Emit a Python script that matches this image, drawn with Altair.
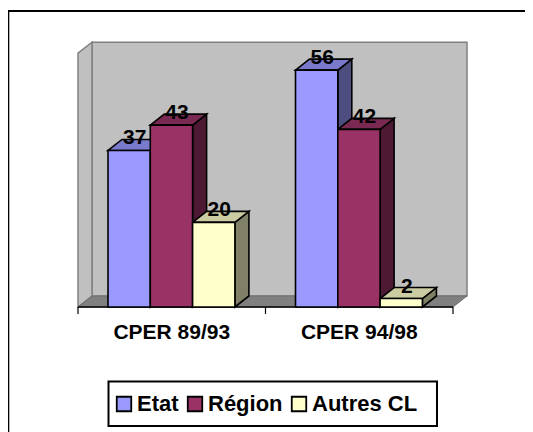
import altair as alt
import pandas as pd

categories = ["CPER 89/93", "CPER 94/98"]
series = ["Etat", "Région", "Autres CL"]
values = {"Etat": [37, 56], "Région": [43, 42], "Autres CL": [20, 2]}
front = ["#9999FF", "#993366", "#FFFFCC"]
side = ["#4D4D80", "#4D1933", "#808066"]
top = ["#7A7ACC", "#7A2952", "#CCCCA3"]

W, H = 517, 424
PX_U = 187.5      # pixels per category
PX_V = 4.23       # pixels per value unit
X0, Y0 = 70, 299  # plot origin within the view
DX, DY = 14 / PX_U, 11 / PX_V  # depth of the 3D projection
BAR_W, BAR_START = 42.3 / PX_U, 30 / PX_U
VMAX = 60

xs = alt.Scale(domain=[-X0 / PX_U, (W - X0) / PX_U], nice=False, zero=False)
ys = alt.Scale(domain=[-(H - Y0) / PX_V, Y0 / PX_V], nice=False, zero=False)
X = lambda f="x": alt.X(f"{f}:Q", scale=xs, axis=None)
Y = lambda f="y": alt.Y(f"{f}:Q", scale=ys, axis=None)

bars, sides, tops = [], [], []
fid = 0
for ci, _ in enumerate(categories):
    for si, s in enumerate(series):
        v = values[s][ci]
        a = ci + BAR_START + si * BAR_W
        b = a + BAR_W
        bars.append(dict(x=a, x2=b, y=0, y2=v, series=s, label=v,
                         lx=(a + b) / 2 + 5.5 / PX_U, ly=v + 12 / PX_V))
        for x, y, y2 in [(b, v, 0), (b + DX, v + DY, DY)]:
            sides.append(dict(x=x, y=y, y2=y2, id=fid, shade=side[si]))
        fid += 1
        for x, y, y2 in [(a, v, v), (a + DX, v + DY, v), (b, v + DY, v), (b + DX, v + DY, v + DY)]:
            tops.append(dict(x=x, y=y, y2=y2, id=fid, shade=top[si]))
        fid += 1

bars = pd.DataFrame(bars)
wall_stroke = dict(stroke="#808080", strokeWidth=1.5)
one = pd.DataFrame(dict(a=[0]))

frame_top = alt.Chart(one).mark_rule(color="black", strokeWidth=2).encode(
    x=alt.value(0), x2=alt.value(W), y=alt.value(3)
)
frame_left = alt.Chart(one).mark_rule(color="black", strokeWidth=2).encode(
    x=alt.value(0.3), y=alt.value(2), y2=alt.value(H)
)
legend_box = alt.Chart(one).mark_rect(fill="white", stroke="black", strokeWidth=2).encode(
    x=alt.value(100.5), x2=alt.value(429), y=alt.value(373.5), y2=alt.value(418)
)

back = alt.Chart(pd.DataFrame(dict(x=[DX], x2=[2 + DX], y=[DY], y2=[VMAX + DY]))).mark_rect(
    fill="#C0C0C0", **wall_stroke
).encode(x=X(), x2="x2", y=Y(), y2="y2")
left = alt.Chart(pd.DataFrame(dict(x=[0, DX], y=[VMAX, VMAX + DY], y2=[0, DY]))).mark_area(
    fill="#C0C0C0", **wall_stroke
).encode(x=X(), y=Y(), y2="y2")
floor = alt.Chart(pd.DataFrame(dict(x=[0, DX, 2, 2 + DX], y=[0, DY, DY, DY], y2=[0, 0, 0, DY]))).mark_area(
    fill="#808080", stroke="#6E6E6E", strokeWidth=1
).encode(x=X(), y=Y(), y2="y2")

axis_line = alt.Chart(pd.DataFrame(dict(x=[0], x2=[2], y=[0]))).mark_rule(color="black", strokeWidth=1.5).encode(
    x=X(), x2="x2", y=Y()
)
ticks = alt.Chart(pd.DataFrame(dict(x=[0, 1, 2], y=[0, 0, 0], y2=[-7 / PX_V] * 3))).mark_rule(
    color="black", strokeWidth=1.2
).encode(x=X(), y=Y(), y2="y2")

sides_l = alt.Chart(pd.DataFrame(sides)).mark_area(stroke="black", strokeWidth=1.6).encode(
    x=X(), y=Y(), y2="y2", detail="id:N", color=alt.Color("shade:N", scale=None)
)
tops_l = alt.Chart(pd.DataFrame(tops)).mark_area(stroke="black", strokeWidth=1.6).encode(
    x=X(), y=Y(), y2="y2", detail="id:N", color=alt.Color("shade:N", scale=None)
)
fronts = alt.Chart(bars).mark_rect(stroke="black", strokeWidth=1.6).encode(
    x=X(), x2="x2", y=Y(), y2="y2",
    fill=alt.Fill(
        "series:N",
        scale=alt.Scale(domain=series, range=front),
        legend=alt.Legend(
            title=None, orient="none", legendX=105, legendY=385, direction="horizontal",
            symbolType="square", symbolSize=210, symbolStrokeColor="black", symbolStrokeWidth=1.8,
            labelFont="Liberation Sans", labelFontWeight="bold", labelFontSize=22, labelColor="black",
            padding=0, columnPadding=5, labelOffset=2, symbolOpacity=1,
        ),
    ),
)
labels = alt.Chart(bars).mark_text(
    font="Liberation Sans", fontWeight="bold", fontSize=21, color="black", baseline="middle"
).encode(x=X("lx"), y=Y("ly"), text="label:Q")

cat = alt.Chart(pd.DataFrame(dict(x=[0.5, 1.5], y=[-26 / PX_V] * 2, c=categories))).mark_text(
    font="Liberation Sans", fontWeight="bold", fontSize=21, color="black", baseline="middle"
).encode(x=X(), y=Y(), text="c:N")

chart = alt.layer(
    frame_top, frame_left, legend_box, back, left, floor, axis_line, ticks, sides_l, tops_l, fronts, labels, cat
).properties(
    width=W, height=H, padding=0, autosize=alt.AutoSizeParams(type="none"),
    background="white",
).configure_view(stroke=None)

chart.save("out.html", embed_options={"renderer": "svg", "actions": False})
